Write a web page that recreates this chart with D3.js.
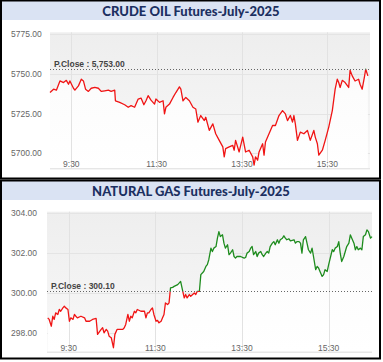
<!DOCTYPE html>
<html>
<head>
  <title>MCX Futures intraday</title>
  <script src="https://d3js.org/d3.v7.min.js"></script>
  <style>
    body { margin: 0; background: #fff; }
    svg { display: block; }
  </style>
</head>
<body>
  <svg id="chart"></svg>
  <script>
    // Crude oil
    const crudeTimes = ["9:00","9:05","9:09","9:14","9:19","9:23","9:26","9:28","9:33","9:35",
      "9:40","9:44","9:47","9:50","9:54","9:58","10:03","10:08","10:12","10:17",
      "10:22","10:26","10:31","10:32","10:38","10:45","10:50","10:54","10:59","11:04",
      "11:08","11:12","11:15","11:18","11:22","11:27","11:29","11:34","11:39","11:41",
      "11:43","11:48","11:53","11:57","12:02","12:04","12:07","12:11","12:16","12:21",
      "12:25","12:28","12:32","12:37","12:39","12:44","12:49","12:53","12:58","13:03",
      "13:05","13:07","13:12","13:17","13:19","13:21","13:26","13:31","13:35","13:40",
      "13:45","13:47","13:49","13:52","13:54","13:59","14:01","14:03","14:08","14:13",
      "14:17","14:22","14:27","14:31","14:34","14:38","14:41","14:43","14:45","14:48",
      "14:52","14:57","15:02","15:06","15:11","15:13","15:16","15:18","15:23","15:27",
      "15:32","15:37","15:41","15:44","15:46","15:48","15:51","15:55","16:00","16:02",
      "16:05","16:09","16:14","16:16","16:19","16:22","16:24","16:27"];
    const crudeValues = [5738.3,5740.4,5739.8,5745.6,5744.6,5746.0,5743.5,5745.6,5741.0,5739.8,
      5742.5,5746.7,5745.6,5740.4,5739.0,5741.0,5741.5,5741.0,5739.0,5739.4,
      5739.8,5739.0,5739.8,5733.1,5732.1,5730.6,5729.0,5730.0,5729.0,5734.2,
      5734.8,5730.6,5733.1,5736.3,5733.5,5731.0,5734.2,5732.1,5733.1,5724.8,
      5729.0,5731.0,5735.2,5738.3,5741.9,5740.4,5733.1,5735.2,5733.1,5729.0,
      5727.9,5719.6,5723.8,5720.6,5722.7,5714.4,5718.5,5712.3,5708.1,5704.0,
      5697.7,5702.9,5704.0,5705.0,5701.9,5708.1,5700.8,5710.2,5700.8,5701.9,
      5697.7,5692.5,5697.7,5695.6,5700.8,5706.0,5698.8,5707.1,5712.3,5717.5,
      5717.5,5723.8,5726.9,5724.8,5720.6,5723.8,5719.6,5723.8,5718.5,5708.1,
      5713.3,5712.3,5714.4,5708.1,5714.4,5710.2,5706.0,5698.8,5701.9,5708.1,
      5716.5,5726.9,5740.4,5746.7,5744.6,5741.5,5746.0,5744.6,5741.5,5752.3,
      5748.8,5745.6,5746.7,5743.5,5740.4,5747.7,5753.0,5748.8];
    const crudeClose = 5753.00;
    const crudeTicks = [5700, 5725, 5750, 5775];

    // Natural gas
    const gasTimes = ["9:01","9:03","9:06","9:08","9:10","9:12","9:15","9:17","9:19","9:22",
      "9:24","9:26","9:29","9:31","9:33","9:36","9:38","9:40","9:42","9:47",
      "9:52","9:54","9:59","10:03","10:08","10:10","10:15","10:17","10:19","10:22",
      "10:24","10:26","10:29","10:31","10:32","10:34","10:37","10:40","10:45","10:47",
      "10:49","10:52","10:54","10:56","10:58","11:01","11:03","11:05","11:10","11:15",
      "11:17","11:19","11:21","11:24","11:26","11:28","11:31","11:33","11:35","11:38",
      "11:40","11:42","11:44","11:47","11:49","11:51","11:54","11:56","12:01","12:05",
      "12:08","12:10","12:12","12:14","12:17","12:19","12:24","12:26","12:28","12:31",
      "12:33","12:37","12:40","12:42","12:44","12:47","12:49","12:51","12:54","12:56",
      "12:58","13:00","13:03","13:05","13:07","13:10","13:12","13:14","13:17","13:19",
      "13:21","13:23","13:28","13:33","13:35","13:37","13:40","13:42","13:44","13:46",
      "13:49","13:51","13:53","13:56","13:58","14:00","14:03","14:05","14:07","14:09",
      "14:12","14:14","14:16","14:19","14:21","14:23","14:26","14:28","14:30","14:32",
      "14:35","14:37","14:42","14:44","14:46","14:49","14:51","14:53","14:55","14:58",
      "15:00","15:02","15:05","15:07","15:09","15:12","15:14","15:16","15:18","15:21",
      "15:23","15:25","15:28","15:30","15:35","15:37","15:39","15:42","15:44","15:46",
      "15:48","15:51","15:53","15:55","15:58","16:00","16:02","16:05","16:07","16:09",
      "16:11","16:14","16:16","16:18","16:21","16:23","16:25","16:28","16:30"];
    const gasValues = [298.75,298.67,298.33,298.83,298.67,299.00,298.92,299.17,299.08,299.25,
      299.33,299.25,299.17,298.58,298.75,298.67,298.92,298.83,298.75,298.83,
      298.75,298.58,298.58,298.67,298.72,297.92,298.17,298.25,298.00,298.17,
      298.08,297.83,297.75,297.42,297.25,297.92,298.17,298.17,298.17,298.25,
      298.42,298.92,298.58,298.83,298.75,299.08,299.00,299.17,299.08,299.08,
      298.75,299.00,299.00,299.17,299.25,298.92,298.58,298.62,298.50,298.58,
      298.75,298.92,299.50,299.42,299.50,300.25,300.28,300.33,300.42,300.58,
      300.08,299.75,299.92,299.75,299.92,299.83,300.00,299.92,300.08,300.08,
      300.92,301.08,301.33,301.42,301.67,302.25,302.08,302.25,302.33,302.75,
      303.08,302.83,302.92,302.50,302.25,302.42,301.92,302.00,302.17,301.83,
      301.75,301.83,301.83,301.75,301.78,302.00,302.08,302.25,302.33,301.92,
      302.08,301.83,302.00,302.08,301.92,301.83,302.00,302.08,302.00,302.33,
      302.50,302.58,302.42,302.67,302.50,302.67,302.75,302.87,302.75,302.67,
      302.72,302.62,302.67,302.50,302.58,302.58,302.50,302.00,302.67,302.83,
      302.50,302.17,302.00,302.25,301.83,301.17,301.33,301.25,301.08,300.83,
      300.92,301.17,301.08,301.42,302.17,302.08,302.25,302.33,302.58,302.00,
      301.58,301.83,302.08,302.33,302.50,302.92,302.75,302.50,302.17,302.33,
      302.17,302.25,302.17,302.83,302.92,303.17,303.08,302.75,302.83];
    const gasClose = 300.10;
    const gasTicks = [298, 300, 302, 304];

    const timeTicks = ["9:30", "11:30", "13:30", "15:30"];
    const sessionRange = ["9:00", "16:30"];

    const W = 383, H = 362;
    const parseTime = d3.timeParse("%H:%M");
    const svg = d3.select("#chart").attr("width", W).attr("height", H);

    const defs = svg.append("defs");
    const bgGrad = defs.append("linearGradient").attr("id", "bgGrad")
      .attr("x1", 0).attr("y1", 0).attr("x2", 0).attr("y2", 1);
    bgGrad.append("stop").attr("offset", "0%").attr("stop-color", "#eeeeee");
    bgGrad.append("stop").attr("offset", "100%").attr("stop-color", "#f8f8f8");
    const areaGrad = defs.append("linearGradient").attr("id", "areaGrad")
      .attr("x1", 0).attr("y1", 0).attr("x2", 0).attr("y2", 1);
    areaGrad.append("stop").attr("offset", "0%").attr("stop-color", "#fbfbfb");
    areaGrad.append("stop").attr("offset", "100%").attr("stop-color", "#ffffff");

    function drawPanel(opts) {
      const g = svg.append("g").attr("transform", `translate(0,${opts.top})`);

      // frame and title band
      g.append("rect").attr("x", 2).attr("y", 1).attr("width", 377).attr("height", 19)
        .attr("fill", "#dae3f3");
      g.append("rect").attr("x", 1).attr("y", 0.5).attr("width", 379).attr("height", 178)
        .attr("fill", "none").attr("stroke", "#000").attr("stroke-width", 2);
      g.append("text")
        .attr("x", 191).attr("y", 16)
        .attr("text-anchor", "middle")
        .style("font-family", "Lato, 'Open Sans', sans-serif")
        .style("font-weight", "900")
        .style("font-size", "13px")
        .style("fill", "#1c3061")
        .text(opts.title);

      const data = opts.times.map((t, i) => ({ t: parseTime(t), v: opts.values[i] }));

      const x = d3.scaleTime()
        .domain(sessionRange.map(parseTime))
        .range([opts.left, opts.right]);
      const y = d3.scaleLinear()
        .domain(opts.yDomain)
        .range([opts.bottom, opts.plotTop]);

      const ph = opts.bottom - opts.plotTop;

      g.append("rect")
        .attr("x", opts.left).attr("y", opts.plotTop)
        .attr("width", opts.right - opts.left).attr("height", ph)
        .attr("fill", "url(#bgGrad)");

      // grid
      g.selectAll(".hgrid").data(opts.ticks).enter().append("line")
        .attr("x1", opts.left).attr("x2", opts.right)
        .attr("y1", d => Math.round(y(d)) + 0.5).attr("y2", d => Math.round(y(d)) + 0.5)
        .attr("stroke", "#e4e4e4");

      // area under the line
      const area = d3.area()
        .x(d => x(d.t)).y0(opts.bottom).y1(d => y(d.v));
      g.append("path").datum(data).attr("d", area).attr("fill", "url(#areaGrad)");

      g.selectAll(".vgrid").data(timeTicks).enter().append("line")
        .attr("x1", d => Math.round(x(parseTime(d))) + 0.5)
        .attr("x2", d => Math.round(x(parseTime(d))) + 0.5)
        .attr("y1", opts.plotTop).attr("y2", opts.bottom)
        .attr("stroke", "#e2e2e2");

      g.append("line")
        .attr("x1", opts.left).attr("x2", opts.right)
        .attr("y1", opts.bottom + 0.5).attr("y2", opts.bottom + 0.5)
        .attr("stroke", "#dcdcdc");

      // y labels
      g.selectAll(".ylab").data(opts.ticks).enter().append("text")
        .attr("x", 11).attr("y", d => y(d)).attr("dy", "0.35em")
        .style("font-family", "'Liberation Sans', Arial, sans-serif")
        .style("font-size", "8.5px")
        .style("fill", "#666")
        .text(d => d3.format(".2f")(d));

      // x labels
      g.selectAll(".xlab").data(timeTicks).enter().append("text")
        .attr("x", d => x(parseTime(d))).attr("y", opts.bottom - 1)
        .attr("text-anchor", "middle")
        .style("font-family", "'Liberation Sans', Arial, sans-serif")
        .style("font-size", "8.5px")
        .style("fill", "#666")
        .text(d => d);

      // price line, green above previous close and red below
      const closeY = y(opts.close);
      const idA = "clipA" + opts.top, idB = "clipB" + opts.top;
      defs.append("clipPath").attr("id", idA).append("rect")
        .attr("x", 0).attr("y", -20).attr("width", W).attr("height", closeY + 20);
      defs.append("clipPath").attr("id", idB).append("rect")
        .attr("x", 0).attr("y", closeY).attr("width", W).attr("height", 300);
      const line = d3.line().x(d => x(d.t)).y(d => y(d.v));
      g.append("path").datum(data).attr("d", line)
        .attr("fill", "none").attr("stroke", "#1e8c1e").attr("stroke-width", 1.3)
        .attr("stroke-linejoin", "round")
        .attr("clip-path", `url(#${idA})`);
      g.append("path").datum(data).attr("d", line)
        .attr("fill", "none").attr("stroke", "#f01414").attr("stroke-width", 1.3)
        .attr("stroke-linejoin", "round")
        .attr("clip-path", `url(#${idB})`);

      // previous close
      g.append("line")
        .attr("x1", opts.left).attr("x2", opts.right)
        .attr("y1", Math.round(closeY) + 0.5).attr("y2", Math.round(closeY) + 0.5)
        .attr("stroke", "#666").attr("stroke-dasharray", "1,2");
      g.append("text")
        .attr("x", opts.left + 4).attr("y", Math.round(closeY) - 2)
        .style("font-family", "'Liberation Sans', Arial, sans-serif")
        .style("font-size", "8.5px")
        .style("font-weight", "bold")
        .style("fill", "#444")
        .text("P.Close : " + d3.format(",.2f")(opts.close));
    }

    drawPanel({
      top: 0, title: "CRUDE OIL Futures-July-2025",
      times: crudeTimes, values: crudeValues, close: crudeClose, ticks: crudeTicks,
      left: 50, right: 370, plotTop: 32.3, bottom: 168.3,
      yDomain: [5690.5, 5776.3]
    });
    drawPanel({
      top: 180, title: "NATURAL GAS Futures-July-2025",
      times: gasTimes, values: gasValues, close: gasClose, ticks: gasTicks,
      left: 47, right: 372, plotTop: 31.7, bottom: 171.7,
      yDomain: [297.05, 304.08]
    });
  </script>
</body>
</html>
